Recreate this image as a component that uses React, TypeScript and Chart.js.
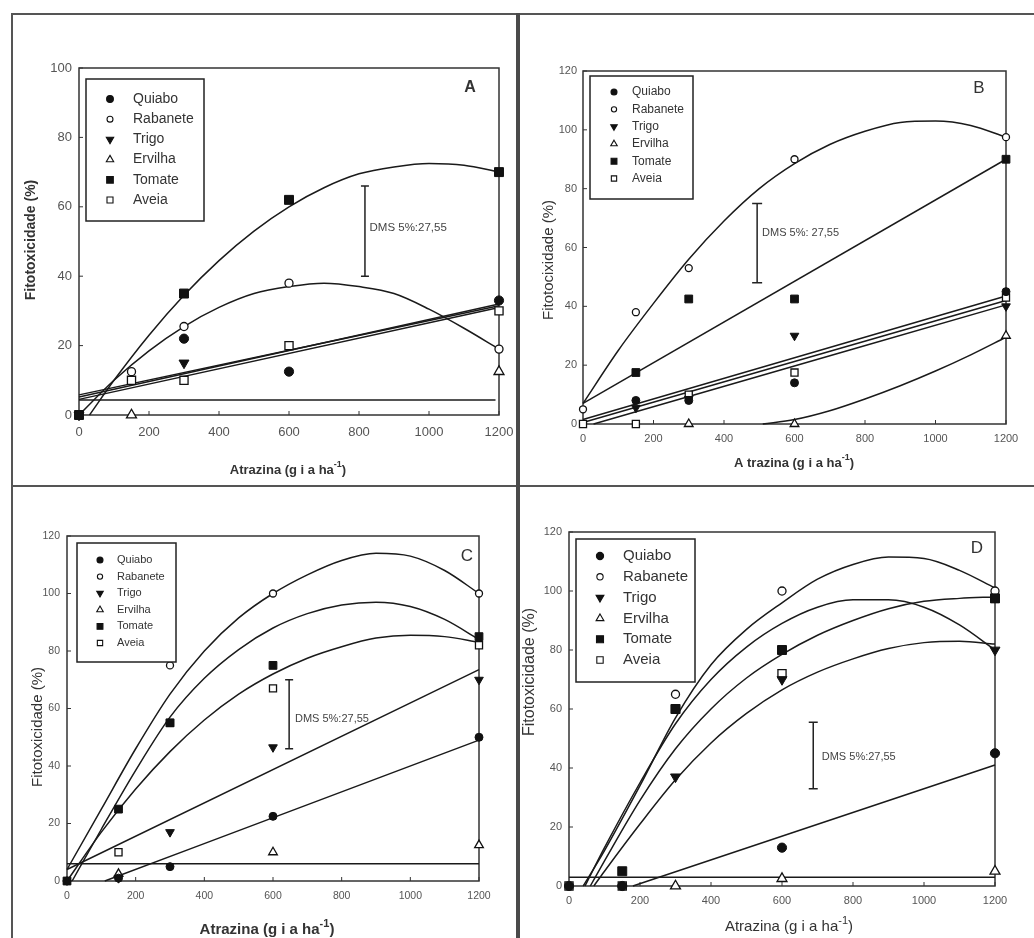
import React, { useEffect, useRef } from "react";
import { Chart, registerables } from "chart.js";

Chart.register(...registerables);

const FONT = "'Liberation Sans', Arial, Helvetica, sans-serif";
Chart.defaults.font.family = FONT;

// ---------------- data ----------------
const seriesNames = ["Quiabo", "Rabanete", "Trigo", "Ervilha", "Tomate", "Aveia"];
const doses = [0, 150, 300, 600, 1200];
const xTicks = [0, 200, 400, 600, 800, 1000, 1200];
const yTicksA = [0, 20, 40, 60, 80, 100];
const yTicksBCD = [0, 20, 40, 60, 80, 100, 120];

type V = number | null;
type Pair = [number, number];

// Panel A – observed values per dose
const aQuiabo: V[] = [0, null, 22, 12.5, 33];
const aRabanete: V[] = [null, 12.5, 25.5, 38, 19];
const aTrigo: V[] = [0, null, 15, null, null];
const aErvilha: V[] = [null, 0, null, null, 12.5];
const aTomate: V[] = [0, null, 35, 62, 70];
const aAveia: V[] = [null, 10, 10, 20, 30];
// Panel A – fitted curves
const aFitTomate: Pair[] = [[30, 0], [100, 10], [200, 23], [300, 34.5], [400, 44.5], [500, 53], [600, 60], [700, 65.5], [800, 69.5], [900, 71.5], [1000, 72.5], [1100, 72], [1200, 70]];
const aFitRabanete: Pair[] = [[0, 0], [100, 10], [200, 18.5], [300, 25.5], [400, 31], [500, 35], [600, 37], [700, 38], [800, 37], [900, 35], [1000, 30.5], [1100, 25], [1200, 19]];
const aFitQuiabo: Pair[] = [[0, 4.5], [1200, 31]];
const aFitTrigo: Pair[] = [[0, 5.2], [1200, 32]];
const aFitAveia: Pair[] = [[0, 5.8], [1200, 31.5]];
const aFitErvilha: Pair[] = [[0, 4.3], [1190, 4.3]];

// Panel B
const bQuiabo: V[] = [null, 8, 8, 14, 45];
const bRabanete: V[] = [5, 38, 53, 90, 97.5];
const bTrigo: V[] = [null, 5.5, 8.5, 30, 40];
const bErvilha: V[] = [null, null, 0, 0, 30];
const bTomate: V[] = [null, 17.5, 42.5, 42.5, 90];
const bAveia: V[] = [0, 0, 10, 17.5, 43];
const bFitRabanete: Pair[] = [[0, 7], [100, 25], [200, 41], [300, 56], [400, 69], [500, 80], [600, 88.5], [700, 95], [800, 99.5], [900, 102.5], [1000, 103], [1100, 101.5], [1200, 97.5]];
const bFitTomate: Pair[] = [[0, 7], [1200, 90]];
const bFitAveia: Pair[] = [[0, 1.5], [1200, 43.5]];
const bFitQuiabo: Pair[] = [[0, 0.5], [1200, 42]];
const bFitTrigo: Pair[] = [[30, 0], [1200, 40.5]];
const bFitErvilha: Pair[] = [[510, 0], [600, 1.5], [700, 4.5], [800, 8.5], [900, 13], [1000, 18], [1100, 23.5], [1200, 29.5]];

// Panel C
const cQuiabo: V[] = [0, 1, 5, 22.5, 50];
const cRabanete: V[] = [0, null, 75, 100, 100];
const cTrigo: V[] = [null, 1, 17, 46.5, 70];
const cErvilha: V[] = [null, 2.5, null, 10, 12.5];
const cTomate: V[] = [0, 25, 55, 75, 85];
const cAveia: V[] = [null, 10, 55, 67, 82];
const cFitRabanete: Pair[] = [[0, 4], [100, 25], [200, 46], [300, 65], [400, 80], [500, 91.5], [600, 100], [700, 106.5], [800, 111.5], [900, 114], [1000, 113], [1100, 108], [1200, 100]];
const cFitTomate: Pair[] = [[15, 0], [100, 18], [200, 38.5], [300, 57], [400, 70.5], [500, 80.5], [600, 88], [700, 93], [800, 96], [900, 97], [1000, 95.5], [1100, 91], [1200, 84]];
const cFitAveia: Pair[] = [[0, 0], [100, 17], [200, 32], [300, 45], [400, 56], [500, 65], [600, 72], [700, 77.5], [800, 81.5], [900, 84.5], [1000, 85.5], [1100, 85], [1200, 83]];
const cFitTrigo: Pair[] = [[0, 4], [1200, 73.5]];
const cFitQuiabo: Pair[] = [[110, 0], [1200, 49]];
const cFitErvilha: Pair[] = [[0, 6], [1200, 6]];

// Panel D
const dQuiabo: V[] = [0, 0, null, 13, 45];
const dRabanete: V[] = [null, null, 65, 100, 100];
const dTrigo: V[] = [null, null, 37, 70, 80];
const dErvilha: V[] = [null, null, 0, 2.5, 5];
const dTomate: V[] = [null, 5, 60, 80, 97.5];
const dAveia: V[] = [0, 0, 60, 72, 97.5];
const dFitRabanete: Pair[] = [[40, 0], [100, 12], [200, 34], [300, 57], [400, 75], [500, 87], [600, 96], [700, 104], [800, 109], [900, 111.5], [1000, 111], [1100, 107], [1200, 101]];
const dFitAveia: Pair[] = [[45, 0], [100, 13], [200, 35], [300, 55], [400, 70], [500, 81], [600, 89], [700, 94.5], [800, 97], [900, 97], [1000, 94.5], [1100, 88.5], [1200, 80]];
const dFitTomate: Pair[] = [[60, 0], [100, 8.5], [200, 29], [300, 46.5], [400, 60], [500, 70.5], [600, 78.5], [700, 85], [800, 90], [900, 94], [1000, 96.5], [1100, 97.5], [1200, 98]];
const dFitTrigo: Pair[] = [[70, 0], [100, 5], [200, 21], [300, 36], [400, 48.5], [500, 58.5], [600, 66.5], [700, 72.5], [800, 77], [900, 80.5], [1000, 82.5], [1100, 83], [1200, 82]];
const dFitQuiabo: Pair[] = [[180, 0], [1200, 41]];
const dFitErvilha: Pair[] = [[0, 3], [1200, 3]];

// ---------------- styles ----------------
type MarkerDef = { style: "circle" | "rect" | "triangle"; filled: boolean; r: number; rot: number };
const markerDefs: MarkerDef[] = [
  { style: "circle", filled: true, r: 4, rot: 0 },
  { style: "circle", filled: false, r: 3.5, rot: 0 },
  { style: "triangle", filled: true, r: 5, rot: 180 },
  { style: "triangle", filled: false, r: 5, rot: 0 },
  { style: "rect", filled: true, r: 5.5, rot: 0 },
  { style: "rect", filled: false, r: 5, rot: 0 },
];

const X_H = 30;
const Y_W = 40;

type PanelCfg = {
  key: string;
  left: number; top: number; w: number; h: number;
  plot: { l: number; t: number; r: number; b: number };
  yMax: number; yTicks: number[];
  points: V[][];
  fits: Pair[][];
  tickFont: number; tickPadX: number; tickPadY: number;
  ms: number;
  letter: string; letterFont: string; letterPos: [number, number];
  legend: { x0: number; y0: number; x1: number; y1: number; row0: number; dy: number; mx: number; tx: number; font: number; ms: number };
  dms: { x: number; y0: number; y1: number; tx: number; ty: number; text: string; font: number; cap: number };
  yTitle: { text: string; cx: number; cy: number; font: string };
  xTitle: { text: string; cx: number; cy: number; size: number; weight: string };
};

const panels: PanelCfg[] = [
  {
    key: "A", left: 12, top: 14, w: 505, h: 472,
    plot: { l: 79, t: 68, r: 499, b: 415 },
    yMax: 100, yTicks: yTicksA,
    points: [aQuiabo, aRabanete, aTrigo, aErvilha, aTomate, aAveia],
    fits: [aFitTomate, aFitRabanete, aFitQuiabo, aFitTrigo, aFitAveia, aFitErvilha],
    tickFont: 13, tickPadX: 10, tickPadY: 7, ms: 1.15,
    letter: "A", letterFont: `bold 16px ${FONT}`, letterPos: [470, 88],
    legend: { x0: 86, y0: 79, x1: 204, y1: 221, row0: 99, dy: 20.2, mx: 110, tx: 133, font: 14, ms: 0.85 },
    dms: { x: 817, y0: 40, y1: 66, tx: 830, ty: 54, text: "DMS 5%:27,55", font: 11.5, cap: 4 },
    yTitle: { text: "Fitotoxicidade (%)", cx: 31, cy: 240, font: `bold 14px ${FONT}` },
    xTitle: { text: "Atrazina (g i a ha", cx: 288, cy: 470, size: 13, weight: "bold" },
  },
  {
    key: "B", left: 520, top: 14, w: 514, h: 472,
    plot: { l: 583, t: 71, r: 1006, b: 424 },
    yMax: 120, yTicks: yTicksBCD,
    points: [bQuiabo, bRabanete, bTrigo, bErvilha, bTomate, bAveia],
    fits: [bFitRabanete, bFitTomate, bFitAveia, bFitQuiabo, bFitTrigo, bFitErvilha],
    tickFont: 11, tickPadX: 8, tickPadY: 6, ms: 1.0,
    letter: "B", letterFont: `17px ${FONT}`, letterPos: [979, 88],
    legend: { x0: 590, y0: 76, x1: 693, y1: 199, row0: 92, dy: 17.3, mx: 614, tx: 632, font: 12, ms: 0.75 },
    dms: { x: 494, y0: 48, y1: 75, tx: 508, ty: 65, text: "DMS 5%: 27,55", font: 11, cap: 5 },
    yTitle: { text: "Fitotocixidade (%)", cx: 549, cy: 260, font: `15px ${FONT}` },
    xTitle: { text: "A trazina (g i a ha", cx: 794, cy: 463, size: 13, weight: "bold" },
  },
  {
    key: "C", left: 12, top: 488, w: 505, h: 450,
    plot: { l: 67, t: 536, r: 479, b: 881 },
    yMax: 120, yTicks: yTicksBCD,
    points: [cQuiabo, cRabanete, cTrigo, cErvilha, cTomate, cAveia],
    fits: [cFitRabanete, cFitTomate, cFitAveia, cFitTrigo, cFitQuiabo, cFitErvilha],
    tickFont: 10.5, tickPadX: 9, tickPadY: 7, ms: 1.0,
    letter: "C", letterFont: `17px ${FONT}`, letterPos: [467, 556],
    legend: { x0: 77, y0: 543, x1: 176, y1: 662, row0: 560, dy: 16.6, mx: 100, tx: 117, font: 11, ms: 0.75 },
    dms: { x: 647, y0: 46, y1: 70, tx: 664, ty: 56.5, text: "DMS 5%:27,55", font: 11, cap: 4 },
    yTitle: { text: "Fitotoxicidade (%)", cx: 38, cy: 727, font: `15px ${FONT}` },
    xTitle: { text: "Atrazina (g i a ha", cx: 267, cy: 930, size: 15, weight: "bold" },
  },
  {
    key: "D", left: 520, top: 488, w: 514, h: 450,
    plot: { l: 569, t: 532, r: 995, b: 886 },
    yMax: 120, yTicks: yTicksBCD,
    points: [dQuiabo, dRabanete, dTrigo, dErvilha, dTomate, dAveia],
    fits: [dFitRabanete, dFitAveia, dFitTomate, dFitTrigo, dFitQuiabo, dFitErvilha],
    tickFont: 11, tickPadX: 8, tickPadY: 7, ms: 1.15,
    letter: "D", letterFont: `17px ${FONT}`, letterPos: [977, 548],
    legend: { x0: 576, y0: 539, x1: 695, y1: 682, row0: 556, dy: 20.8, mx: 600, tx: 623, font: 15, ms: 0.9 },
    dms: { x: 688, y0: 33, y1: 55.5, tx: 712, ty: 43.7, text: "DMS 5%:27,55", font: 11, cap: 4.5 },
    yTitle: { text: "Fitotoxicidade (%)", cx: 530, cy: 672, font: `16px ${FONT}` },
    xTitle: { text: "Atrazina (g i a ha", cx: 789, cy: 927, size: 15, weight: "normal" },
  },
];

// ---------------- drawing helpers ----------------
function drawMarker(ctx: CanvasRenderingContext2D, def: MarkerDef, x: number, y: number, scale: number) {
  const r = def.r * scale;
  ctx.beginPath();
  if (def.style === "circle") {
    ctx.arc(x, y, r, 0, Math.PI * 2);
  } else if (def.style === "rect") {
    const s = r * Math.SQRT1_2;
    ctx.rect(x - s, y - s, 2 * s, 2 * s);
  } else {
    const dir = def.rot === 180 ? -1 : 1;
    ctx.moveTo(x, y - dir * r);
    ctx.lineTo(x + r * 0.866, y + dir * r * 0.5);
    ctx.lineTo(x - r * 0.866, y + dir * r * 0.5);
    ctx.closePath();
  }
  ctx.fillStyle = def.filled ? "#111" : "#fff";
  ctx.fill();
  ctx.strokeStyle = "#111";
  ctx.lineWidth = 1.1;
  ctx.stroke();
}

function makePlugin(cfg: PanelCfg) {
  return {
    id: "decor" + cfg.key,
    beforeDatasetsDraw(chart: any) {
      const ctx = chart.ctx as CanvasRenderingContext2D;
      const ca = chart.chartArea;
      const xs = chart.scales.x;
      const ys = chart.scales.y;
      ctx.save();
      ctx.strokeStyle = "#333";
      ctx.lineWidth = 1.5;
      ctx.strokeRect(ca.left, ca.top, ca.right - ca.left, ca.bottom - ca.top);
      ctx.lineWidth = 1;
      xTicks.forEach((v) => {
        const px = xs.getPixelForValue(v);
        ctx.beginPath();
        ctx.moveTo(px, ca.bottom);
        ctx.lineTo(px, ca.bottom - 4);
        ctx.stroke();
      });
      cfg.yTicks.forEach((v) => {
        const py = ys.getPixelForValue(v);
        ctx.beginPath();
        ctx.moveTo(ca.left, py);
        ctx.lineTo(ca.left + 4, py);
        ctx.stroke();
      });
      ctx.restore();
    },
    afterDraw(chart: any) {
      const ctx = chart.ctx as CanvasRenderingContext2D;
      const xs = chart.scales.x;
      const ys = chart.scales.y;
      const ox = cfg.left;
      const oy = cfg.top;
      ctx.save();

      // DMS error bar
      const d = cfg.dms;
      const bx = xs.getPixelForValue(d.x);
      const by0 = ys.getPixelForValue(d.y0);
      const by1 = ys.getPixelForValue(d.y1);
      ctx.strokeStyle = "#222";
      ctx.lineWidth = 1.5;
      ctx.beginPath();
      ctx.moveTo(bx, by0);
      ctx.lineTo(bx, by1);
      ctx.moveTo(bx - d.cap, by0);
      ctx.lineTo(bx + d.cap, by0);
      ctx.moveTo(bx - d.cap, by1);
      ctx.lineTo(bx + d.cap, by1);
      ctx.stroke();
      ctx.fillStyle = "#444";
      ctx.font = `${d.font}px ${FONT}`;
      ctx.textAlign = "left";
      ctx.textBaseline = "middle";
      ctx.fillText(d.text, xs.getPixelForValue(d.tx), ys.getPixelForValue(d.ty));

      // legend
      const L = cfg.legend;
      ctx.fillStyle = "#fff";
      ctx.fillRect(L.x0 - ox, L.y0 - oy, L.x1 - L.x0, L.y1 - L.y0);
      ctx.strokeStyle = "#222";
      ctx.lineWidth = 1.5;
      ctx.strokeRect(L.x0 - ox, L.y0 - oy, L.x1 - L.x0, L.y1 - L.y0);
      seriesNames.forEach((name, i) => {
        const y = L.row0 + i * L.dy - oy;
        drawMarker(ctx, markerDefs[i], L.mx - ox, y, L.ms);
        ctx.fillStyle = "#333";
        ctx.font = `${L.font}px ${FONT}`;
        ctx.textAlign = "left";
        ctx.textBaseline = "middle";
        ctx.fillText(name, L.tx - ox, y);
      });

      // panel letter
      ctx.fillStyle = "#333";
      ctx.font = cfg.letterFont;
      ctx.textAlign = "center";
      ctx.textBaseline = "middle";
      ctx.fillText(cfg.letter, cfg.letterPos[0] - ox, cfg.letterPos[1] - oy);

      // y title
      ctx.save();
      ctx.translate(cfg.yTitle.cx - ox, cfg.yTitle.cy - oy);
      ctx.rotate(-Math.PI / 2);
      ctx.font = cfg.yTitle.font;
      ctx.fillStyle = "#333";
      ctx.textAlign = "center";
      ctx.textBaseline = "middle";
      ctx.fillText(cfg.yTitle.text, 0, 0);
      ctx.restore();

      // x title with superscript
      const t = cfg.xTitle;
      const mainFont = `${t.weight} ${t.size}px ${FONT}`;
      const supFont = `${t.weight} ${Math.round(t.size * 0.7)}px ${FONT}`;
      ctx.font = mainFont;
      const w1 = ctx.measureText(t.text).width;
      const w3 = ctx.measureText(")").width;
      ctx.font = supFont;
      const w2 = ctx.measureText("-1").width;
      let x = t.cx - ox - (w1 + w2 + w3) / 2;
      const cy = t.cy - oy;
      ctx.fillStyle = "#333";
      ctx.textAlign = "left";
      ctx.textBaseline = "middle";
      ctx.font = mainFont;
      ctx.fillText(t.text, x, cy);
      x += w1;
      ctx.font = supFont;
      ctx.fillText("-1", x, cy - t.size * 0.42);
      x += w2;
      ctx.font = mainFont;
      ctx.fillText(")", x, cy);

      ctx.restore();
    },
  };
}

function PanelChart({ cfg }: { cfg: PanelCfg }) {
  const ref = useRef<HTMLCanvasElement | null>(null);
  useEffect(() => {
    const canvas = ref.current;
    if (!canvas) return;
    const relL = cfg.plot.l - cfg.left;
    const relT = cfg.plot.t - cfg.top;
    const relR = cfg.plot.r - cfg.left;
    const relB = cfg.plot.b - cfg.top;

    const pointDatasets = cfg.points.map((vals, i) => {
      const d = markerDefs[i];
      return {
        type: "scatter" as const,
        label: seriesNames[i],
        data: doses
          .map((x, j) => (vals[j] == null ? null : { x, y: vals[j] as number }))
          .filter((p) => p !== null),
        pointStyle: d.style,
        pointRotation: d.rot,
        pointRadius: d.r * cfg.ms,
        pointBackgroundColor: d.filled ? "#111" : "#fff",
        pointBorderColor: "#111",
        pointBorderWidth: d.filled ? 1 : 1.3,
        showLine: false,
        clip: false,
        order: d.filled ? 0 : 1,
      };
    });
    const fitDatasets = cfg.fits.map((pairs, i) => ({
      type: "scatter" as const,
      label: "fit" + i,
      data: pairs.map(([x, y]) => ({ x, y })),
      showLine: true,
      pointRadius: 0,
      borderColor: "#1a1a1a",
      borderWidth: 1.5,
      cubicInterpolationMode: "monotone" as const,
      clip: false,
      order: 2,
    }));

    const tickFmt = (v: any) => String(v);

    const chart = new Chart(canvas, {
      type: "scatter",
      data: { datasets: [...pointDatasets, ...fitDatasets] as any },
      options: {
        responsive: false,
        maintainAspectRatio: false,
        animation: false,
        events: [],
        layout: {
          padding: {
            left: relL - Y_W,
            top: relT,
            right: cfg.w - relR,
            bottom: cfg.h - relB - X_H,
          },
        },
        plugins: { legend: { display: false }, tooltip: { enabled: false } },
        scales: {
          x: {
            type: "linear",
            min: 0,
            max: 1200,
            afterBuildTicks: (s: any) => {
              s.ticks = xTicks.map((v) => ({ value: v }));
            },
            afterFit: (s: any) => {
              s.height = X_H;
              s.paddingLeft = 0;
              s.paddingRight = 0;
            },
            grid: { display: false, drawTicks: false },
            border: { display: false },
            ticks: {
              font: { family: FONT, size: cfg.tickFont },
              color: "#555",
              padding: cfg.tickPadX,
              maxRotation: 0,
              autoSkip: false,
              callback: tickFmt,
            },
          },
          y: {
            type: "linear",
            min: 0,
            max: cfg.yMax,
            afterBuildTicks: (s: any) => {
              s.ticks = cfg.yTicks.map((v) => ({ value: v }));
            },
            afterFit: (s: any) => {
              s.width = Y_W;
              s.paddingTop = 0;
              s.paddingBottom = 0;
            },
            grid: { display: false, drawTicks: false },
            border: { display: false },
            ticks: {
              font: { family: FONT, size: cfg.tickFont },
              color: "#555",
              padding: cfg.tickPadY,
              autoSkip: false,
              callback: tickFmt,
            },
          },
        },
      } as any,
      plugins: [makePlugin(cfg)],
    });
    return () => chart.destroy();
  }, [cfg]);

  return (
    <canvas
      ref={ref}
      width={cfg.w}
      height={cfg.h}
      style={{ position: "absolute", left: cfg.left, top: cfg.top, width: cfg.w, height: cfg.h }}
    />
  );
}

export default function App() {
  const line = "#555";
  return (
    <div
      style={{
        position: "absolute",
        left: 0,
        top: 0,
        width: 1034,
        height: 938,
        background: "#fff",
        overflow: "hidden",
      }}
    >
      {panels.map((p) => (
        <PanelChart key={p.key} cfg={p} />
      ))}
      <div style={{ position: "absolute", left: 11, top: 13, width: 1023, height: 2, background: line }} />
      <div style={{ position: "absolute", left: 11, top: 13, width: 2, height: 925, background: line }} />
      <div style={{ position: "absolute", left: 11, top: 485, width: 1023, height: 2, background: line }} />
      <div style={{ position: "absolute", left: 516, top: 13, width: 4, height: 925, background: "#4a4a4a" }} />
    </div>
  );
}
